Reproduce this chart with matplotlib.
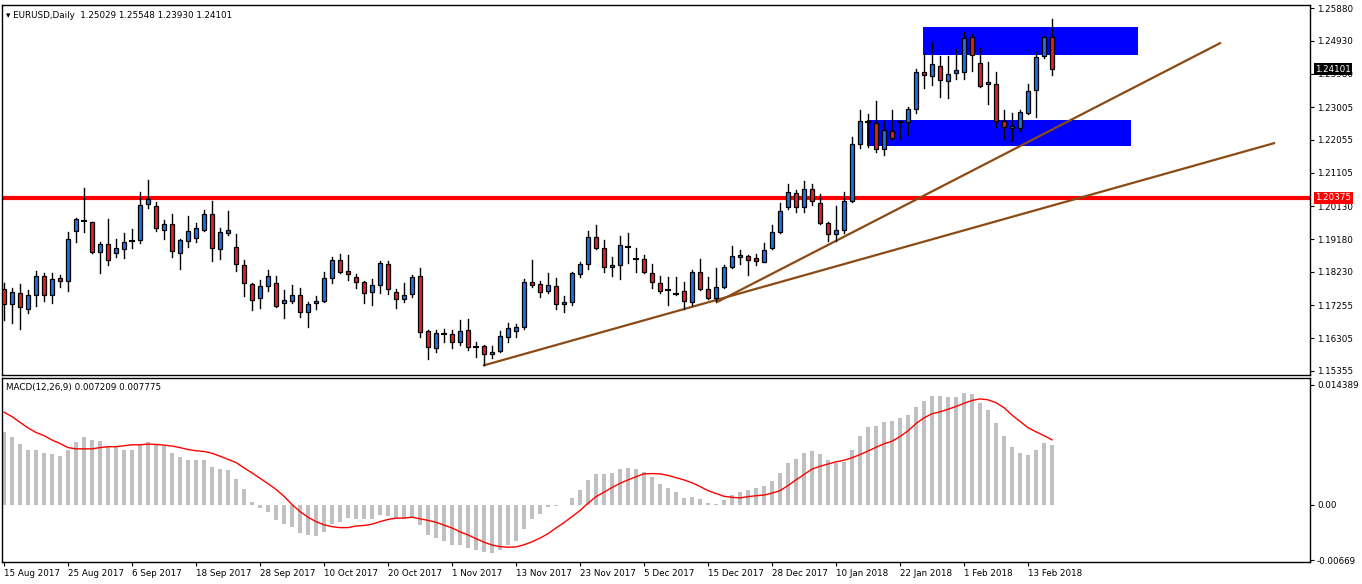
import numpy as np
import matplotlib
matplotlib.use('Agg')
import matplotlib.pyplot as plt
from matplotlib.patches import Rectangle

# EURUSD daily, 15 Aug 2017 .. 16 Feb 2018
opens = [1.1773, 1.1729, 1.1761, 1.1715, 1.1755, 1.1811, 1.1755, 1.1805, 1.1796, 1.1941,
         1.1970, 1.1967, 1.1880, 1.1903, 1.1877, 1.1889, 1.1912, 1.1915, 1.2019, 1.2014,
         1.1944, 1.1961, 1.1877, 1.1912, 1.1921, 1.1944, 1.1990, 1.1889, 1.1935, 1.1895,
         1.1842, 1.1787, 1.1747, 1.1782, 1.1790, 1.1732, 1.1738, 1.1755, 1.1706, 1.1732,
         1.1738, 1.1805, 1.1857, 1.1825, 1.1808, 1.1793, 1.1764, 1.1785, 1.1845, 1.1764,
         1.1744, 1.1758, 1.1811, 1.1651, 1.1602, 1.1643, 1.1642, 1.1619, 1.1654, 1.1605,
         1.1608, 1.1584, 1.1593, 1.1634, 1.1651, 1.1663, 1.1793, 1.1787, 1.1767, 1.1782,
         1.1729, 1.1735, 1.1816, 1.1845, 1.1924, 1.1892, 1.1837, 1.1842, 1.1895, 1.1860,
         1.1860, 1.1819, 1.1790, 1.1770, 1.1761, 1.1767, 1.1735, 1.1822, 1.1773, 1.1747,
         1.1779, 1.1837, 1.1866, 1.1869, 1.1863, 1.1851, 1.1892, 1.1938, 1.2011, 1.2051,
         1.2011, 1.2063, 1.2022, 1.1964, 1.1932, 1.1944, 1.2028, 1.2193, 1.2257, 1.2254,
         1.2179, 1.2231, 1.2257, 1.2257, 1.2295, 1.2402, 1.2391, 1.2420, 1.2376, 1.2399,
         1.2402, 1.2504, 1.2428, 1.2367, 1.2367, 1.2260, 1.2240, 1.2240, 1.2283, 1.2350,
         1.2449, 1.25029]
highs = [1.1790, 1.1776, 1.1787, 1.1770, 1.1825, 1.1819, 1.1819, 1.1813, 1.1938, 1.1979,
         1.2066, 1.1968, 1.1909, 1.1976, 1.1918, 1.1935, 1.1947, 1.2054, 1.2089, 1.2025,
         1.1973, 1.1990, 1.1918, 1.1985, 1.1964, 1.2002, 1.2028, 1.1950, 1.1999, 1.1932,
         1.1857, 1.1790, 1.1799, 1.1828, 1.1811, 1.1770, 1.1785, 1.1776, 1.1735, 1.1753,
         1.1822, 1.1866, 1.1874, 1.1871, 1.1816, 1.1796, 1.1802, 1.1854, 1.1854, 1.1773,
         1.1790, 1.1813, 1.1834, 1.1654, 1.1654, 1.1657, 1.1654, 1.1683, 1.1686, 1.1619,
         1.1611, 1.1608, 1.1651, 1.1674, 1.1671, 1.1802, 1.1857, 1.1796, 1.1819, 1.1805,
         1.1753, 1.1822, 1.1851, 1.1941, 1.1958, 1.1915, 1.1866, 1.1927, 1.1935, 1.1892,
         1.1871, 1.1845, 1.1811, 1.1808, 1.1808, 1.1793, 1.1828, 1.1860, 1.1808, 1.1834,
         1.1842, 1.1898, 1.1886, 1.1871, 1.1874, 1.1906, 1.1958, 1.2022, 1.2077, 1.2060,
         1.2086, 1.2077, 1.2048, 1.1967, 1.2013, 1.2054, 1.2214, 1.2292, 1.2280, 1.2318,
         1.2260, 1.2292, 1.2260, 1.2301, 1.2411, 1.2454, 1.2489, 1.2449, 1.2449, 1.2469,
         1.2518, 1.2512, 1.2472, 1.2431, 1.2402, 1.2292, 1.2283, 1.2292, 1.2367, 1.2460,
         1.2507, 1.25548]
lows = [1.1683, 1.1674, 1.1657, 1.1703, 1.1724, 1.1738, 1.1732, 1.1779, 1.1767, 1.1909,
        1.1938, 1.1877, 1.1819, 1.1842, 1.1866, 1.1863, 1.1892, 1.1906, 1.2008, 1.1941,
        1.1918, 1.1866, 1.1831, 1.1895, 1.1909, 1.1941, 1.1854, 1.1860, 1.1929, 1.1825,
        1.1753, 1.1712, 1.1718, 1.1767, 1.1722, 1.1689, 1.1732, 1.1692, 1.1663, 1.1715,
        1.1735, 1.1790, 1.1819, 1.1799, 1.1776, 1.1732, 1.1727, 1.1761, 1.1758, 1.1718,
        1.1735, 1.1750, 1.1634, 1.1570, 1.1590, 1.1619, 1.1602, 1.1611, 1.1596, 1.1576,
        1.1552, 1.1573, 1.1590, 1.1619, 1.1634, 1.1657, 1.1779, 1.1750, 1.1761, 1.1715,
        1.1706, 1.1727, 1.1808, 1.1831, 1.1889, 1.1822, 1.1811, 1.1802, 1.1848, 1.1822,
        1.1819, 1.1776, 1.1761, 1.1727, 1.1755, 1.1715, 1.1727, 1.1770, 1.1744, 1.1738,
        1.1776, 1.1834, 1.1845, 1.1813, 1.1842, 1.1851, 1.1889, 1.1935, 1.2005, 1.1996,
        1.1996, 1.2016, 1.1961, 1.1912, 1.1912, 1.1935, 1.2025, 1.2182, 1.2185, 1.2170,
        1.2161, 1.2208, 1.2208, 1.2220, 1.2283, 1.2356, 1.2364, 1.2330, 1.2327, 1.2382,
        1.2382, 1.2405, 1.2359, 1.2309, 1.2243, 1.2208, 1.2202, 1.2231, 1.2280, 1.2272,
        1.2443, 1.23930]
closes = [1.1729, 1.1764, 1.1721, 1.1755, 1.1811, 1.1755, 1.1802, 1.1796, 1.1918, 1.1976,
          1.1971, 1.1880, 1.1903, 1.1857, 1.1892, 1.1909, 1.1913, 1.2016, 1.2034, 1.1950,
          1.1961, 1.1883, 1.1915, 1.1941, 1.1950, 1.1990, 1.1892, 1.1938, 1.1944, 1.1845,
          1.1790, 1.1741, 1.1782, 1.1811, 1.1724, 1.1741, 1.1755, 1.1706, 1.1729, 1.1738,
          1.1805, 1.1857, 1.1822, 1.1816, 1.1793, 1.1761, 1.1785, 1.1848, 1.1773, 1.1744,
          1.1755, 1.1808, 1.1648, 1.1605, 1.1645, 1.1642, 1.1619, 1.1651, 1.1605, 1.1604,
          1.1584, 1.1590, 1.1637, 1.1660, 1.1663, 1.1793, 1.1785, 1.1764, 1.1785, 1.1729,
          1.1735, 1.1819, 1.1845, 1.1924, 1.1892, 1.1837, 1.1842, 1.1900, 1.1896, 1.1860,
          1.1822, 1.1793, 1.1767, 1.1769, 1.1760, 1.1738, 1.1822, 1.1773, 1.1747, 1.1779,
          1.1837, 1.1869, 1.1872, 1.1857, 1.1854, 1.1886, 1.1938, 1.1999, 1.2054, 1.2011,
          1.2063, 1.2028, 1.1964, 1.1932, 1.1944, 1.2028, 1.2193, 1.2260, 1.2258, 1.2179,
          1.2234, 1.2211, 1.2258, 1.2295, 1.2402, 1.2393, 1.2425, 1.2379, 1.2396, 1.2408,
          1.2501, 1.2452, 1.2362, 1.2373, 1.2260, 1.2243, 1.2246, 1.2286, 1.2347, 1.2446,
          1.2504, 1.24101]

# MACD(12,26,9) main histogram and signal line, in units of 1e-4
macd_main = [86.6, 80.9, 72.2, 66.1, 66.1, 61.9, 60.8, 58.1, 65.0, 75.2,
             80.9, 77.5, 76.4, 70.7, 69.5, 66.1, 65.0, 71.4, 75.2, 73.0,
             70.3, 61.9, 57.0, 53.6, 53.6, 53.6, 45.6, 42.2, 41.0, 30.8,
             18.2, 3.4, -4.2, -9.1, -18.2, -23.6, -27.4, -34.2, -36.5, -37.2,
             -33.1, -23.9, -20.5, -16.7, -17.1, -17.9, -17.9, -12.2, -13.3, -16.0,
             -17.9, -16.0, -24.7, -36.1, -40.7, -44.1, -48.6, -48.6, -52.1, -54.3,
             -56.6, -57.8, -54.3, -48.6, -44.1, -29.3, -17.9, -11.0, -3.0, -1.5,
             -0.8, 8.4, 17.5, 30.0, 36.5, 36.5, 38.0, 42.2, 44.5, 43.3,
             38.8, 33.1, 25.1, 19.4, 14.8, 8.4, 9.1, 6.8, 2.3, 0.8,
             5.7, 11.4, 14.8, 17.1, 19.4, 21.7, 28.5, 37.6, 50.2, 54.7,
             61.9, 63.8, 60.4, 53.6, 49.4, 51.3, 66.1, 82.1, 93.5, 94.6,
             99.2, 100.3, 103.7, 107.2, 117.4, 124.3, 130.0, 130.0, 128.8, 128.8,
             133.4, 132.2, 122.0, 114.0, 98.0, 82.1, 69.5, 61.6, 59.3, 65.0,
             74.1, 72.09]
macd_signal = [111.0, 105.6, 98.8, 92.0, 86.6, 82.8, 77.5, 73.3, 68.4, 66.9,
               66.9, 66.9, 68.4, 69.5, 69.5, 70.7, 71.8, 71.8, 72.6, 72.2,
               71.4, 70.3, 68.4, 66.1, 64.6, 63.8, 61.6, 58.1, 54.3, 50.5,
               44.1, 38.0, 31.5, 25.1, 18.2, 9.9, 0.0, -8.4, -15.2, -20.5,
               -24.3, -26.6, -27.7, -27.7, -25.8, -25.1, -23.6, -20.5, -17.9, -16.3,
               -16.3, -15.2, -17.1, -19.0, -21.3, -24.7, -28.1, -32.7, -36.5, -41.0,
               -45.2, -48.6, -50.5, -51.3, -50.9, -48.3, -44.8, -40.3, -35.0, -28.1,
               -21.7, -14.4, -7.2, 1.5, 9.5, 14.8, 20.5, 25.5, 29.6, 33.4,
               36.9, 37.2, 36.9, 35.0, 32.3, 29.6, 26.2, 21.7, 16.7, 13.3,
               9.9, 8.7, 8.0, 9.5, 10.6, 11.4, 13.7, 16.7, 22.8, 29.6,
               36.1, 42.6, 46.0, 48.6, 51.3, 53.2, 56.2, 60.0, 64.2, 68.8,
               73.0, 76.0, 81.7, 88.5, 97.3, 104.1, 109.1, 111.3, 114.4, 117.8,
               121.6, 125.0, 126.9, 125.8, 122.4, 116.3, 107.5, 99.9, 92.3, 87.4,
               82.8, 77.75]

date_labels = ['15 Aug 2017', '25 Aug 2017', '6 Sep 2017', '18 Sep 2017', '28 Sep 2017',
               '10 Oct 2017', '20 Oct 2017', '1 Nov 2017', '13 Nov 2017', '23 Nov 2017',
               '5 Dec 2017', '15 Dec 2017', '28 Dec 2017', '10 Jan 2018', '22 Jan 2018',
               '1 Feb 2018', '13 Feb 2018']
price_ticks = [1.25880, 1.24930, 1.23980, 1.23005, 1.22055, 1.21105, 1.20130,
               1.19180, 1.18230, 1.17255, 1.16305, 1.15355]
level = 1.20375
last_price = 1.24101
# supply / demand zones: (x0, x1, low, high)
zones = [(114.9, 141.75, 1.2452, 1.2533), (107.9, 140.9, 1.2188, 1.2263)]
# trend lines: (x0, p0, x1, p1)
trendlines = [(60, 1.1552, 158.75, 1.2196), (89.1, 1.1735, 152, 1.2486)]

W, H = 1362, 584
fig = plt.figure(figsize=(W / 100, H / 100), dpi=100)
plt.rcParams['font.family'] = 'DejaVu Sans'
ax = fig.add_axes([2 / W, 1 - 375 / H, 1308 / W, 370 / H])
ax2 = fig.add_axes([2 / W, 1 - 562 / H, 1308 / W, 184 / H])

n = len(closes)
x = np.arange(n)
blue = '#2372DE'
red = '#D8262B'
fs = 6.3

for (a, b, lo, hi) in zones:
    ax.add_patch(Rectangle((a, lo), b - a, hi - lo, facecolor='#0000FF', edgecolor='none', zorder=1))

for i in range(n):
    o, h, l, c = opens[i], highs[i], lows[i], closes[i]
    ax.plot([i, i], [l, h], color='black', lw=1, zorder=3)
    if abs(c - o) < 0.00015:
        ax.plot([i - 0.3, i + 0.3], [c, c], color='black', lw=1.5, zorder=4)
    else:
        col = blue if c > o else red
        ax.add_patch(Rectangle((i - 0.3, min(o, c)), 0.6, abs(c - o), facecolor=col,
                               edgecolor='black', lw=0.9, zorder=4))

ax.axhline(level, color='#FF0000', lw=3, zorder=2)
for (a, pa, b, pb) in trendlines:
    ax.plot([a, b], [pa, pb], color='#8B4A14', lw=1.6, zorder=2)

xl = (-0.25, 163.25)
ax.set_xlim(*xl)
ax.set_ylim(1.15239, 1.25967)
ax.yaxis.tick_right()
ax.set_yticks(price_ticks)
ax.set_yticklabels(['%.5f' % t for t in price_ticks])
ax.tick_params(axis='y', labelsize=fs, length=3, pad=2)
ax.set_xticks([])
ax.text(1.004, level, '%.5f' % level, transform=ax.get_yaxis_transform(), fontsize=fs,
        color='white', va='center', ha='left',
        bbox=dict(facecolor='#FF0000', edgecolor='none', pad=1.0))
ax.text(1.004, last_price, '%.5f' % last_price, transform=ax.get_yaxis_transform(), fontsize=fs,
        color='white', va='center', ha='left', zorder=10,
        bbox=dict(facecolor='black', edgecolor='none', pad=1.0))
ax.text(0.003, 0.985, '\u25BE EURUSD,Daily  1.25029 1.25548 1.23930 1.24101', transform=ax.transAxes,
        fontsize=fs, va='top', ha='left')

# MACD panel
main = np.array(macd_main) * 1e-4
sig = np.array(macd_signal) * 1e-4
ax2.bar(x, main, width=0.42, color='#C0C0C0', zorder=2)
ax2.plot(x, sig, color='#FF0000', lw=1, zorder=3)
ax2.set_xlim(*xl)
ax2.set_ylim(-0.0069, 0.0152)
ax2.yaxis.tick_right()
ax2.set_yticks([0.014389, 0.0, -0.00669])
ax2.set_yticklabels(['0.014389', '0.00', '-0.00669'])
ax2.tick_params(axis='y', labelsize=fs, length=3, pad=2)
ax2.text(0.003, 0.975, 'MACD(12,26,9) 0.007209 0.007775', transform=ax2.transAxes,
         fontsize=fs, va='top', ha='left')
ax2.set_xticks(np.arange(0, n, 8))
ax2.set_xticklabels(date_labels, ha='left')
ax2.tick_params(axis='x', labelsize=fs, length=3, pad=2)

for a in (ax, ax2):
    for s in a.spines.values():
        s.set_linewidth(1)

fig.savefig('out.png', dpi=100)
